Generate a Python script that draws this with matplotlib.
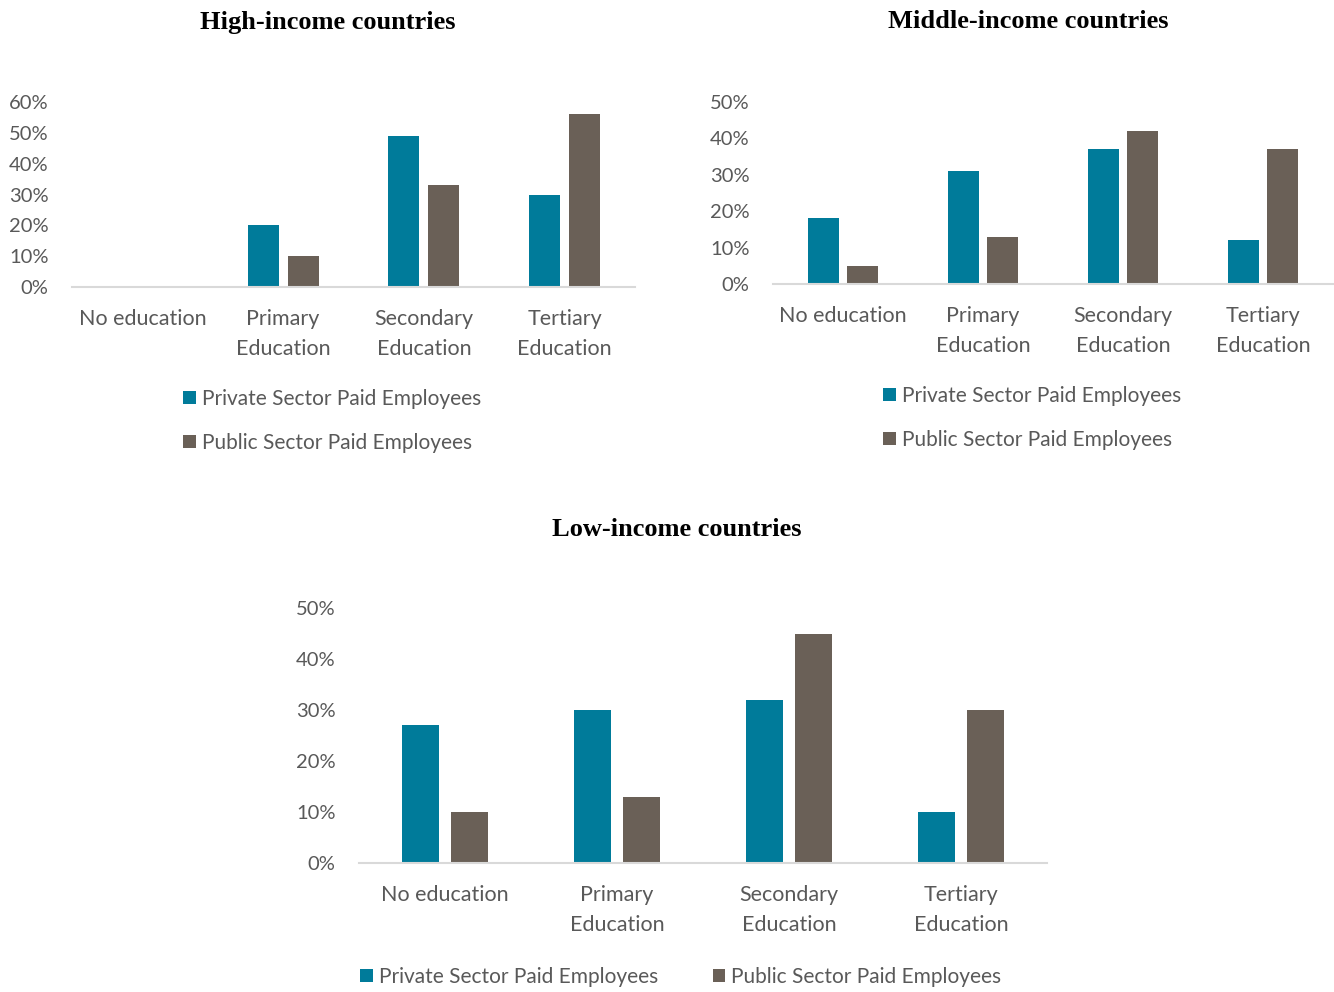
import matplotlib.pyplot as plt
import numpy as np

categories = ['No education', 'Primary\nEducation', 'Secondary\nEducation', 'Tertiary\nEducation']
series = ['Private Sector Paid Employees', 'Public Sector Paid Employees']

high_private = [0, 20, 49, 30]
high_public = [0, 10, 33, 56]
mid_private = [18, 31, 37, 12]
mid_public = [5, 13, 42, 37]
low_private = [27, 30, 32, 10]
low_public = [10, 13, 45, 30]

teal = '#007B9A'
brown = '#6A6057'
grey_text = '#595959'

plt.rcParams['font.family'] = ['Lato', 'DejaVu Sans']

W, H = 1334, 992
fig = plt.figure(figsize=(W / 100, H / 100), dpi=100)


def px_axes(left, right, top, bottom):
    # pixel box -> figure fraction
    return fig.add_axes([left / W, 1 - bottom / H, (right - left) / W, (bottom - top) / H])


def draw(ax, private, public, ymax, step):
    x = np.arange(len(categories))
    w = 0.22
    off = 0.142
    b1 = ax.bar(x - off, np.array(private) / 100, w, color=teal, label=series[0])
    b2 = ax.bar(x + off, np.array(public) / 100, w, color=brown, label=series[1])
    ax.set_xlim(-0.5, len(categories) - 0.5)
    ax.set_ylim(0, ymax)
    ticks = np.arange(0, ymax + 1e-9, step)
    ax.set_yticks(ticks)
    ax.set_yticklabels([f'{int(round(t * 100))}%' for t in ticks], fontsize=14.5)
    ax.set_xticks(x)
    ax.set_xticklabels(categories, linespacing=1.6, fontsize=15.5)
    for s in ['top', 'right', 'left']:
        ax.spines[s].set_visible(False)
    ax.spines['bottom'].set_color('#D9D9D9')
    ax.spines['bottom'].set_linewidth(1.5)
    ax.tick_params(axis='both', length=0, labelcolor=grey_text)
    ax.tick_params(axis='y', pad=17)
    ax.tick_params(axis='x', pad=16)
    return b1, b2


def title(text, cx, cy):
    fig.text(cx / W, 1 - cy / H, text, ha='center', va='center', fontsize=19,
             fontweight='bold', family='Liberation Serif')


def legend(handles, cx, cy, ncol):
    fig.legend(handles, series, loc='center', bbox_to_anchor=(cx / W, 1 - cy / H),
               bbox_transform=fig.transFigure, ncol=ncol, frameon=False, fontsize=15,
               labelcolor=grey_text, handlelength=0.6, handleheight=0.6, handletextpad=0.3,
               labelspacing=1.15, columnspacing=2.6)


ax1 = px_axes(72, 635, 102, 287)
h = draw(ax1, high_private, high_public, 0.6, 0.1)
title('High-income countries', 328, 22)
legend(h, 332, 421, 1)

ax2 = px_axes(773, 1333, 102, 284)
h = draw(ax2, mid_private, mid_public, 0.5, 0.1)
title('Middle-income countries', 1028, 22)
legend(h, 1032, 418, 1)

ax3 = px_axes(359, 1047, 608, 863)
h = draw(ax3, low_private, low_public, 0.5, 0.1)
title('Low-income countries', 677, 529)
legend(h, 681, 977, 2)

fig.savefig('out.png', dpi=100)
